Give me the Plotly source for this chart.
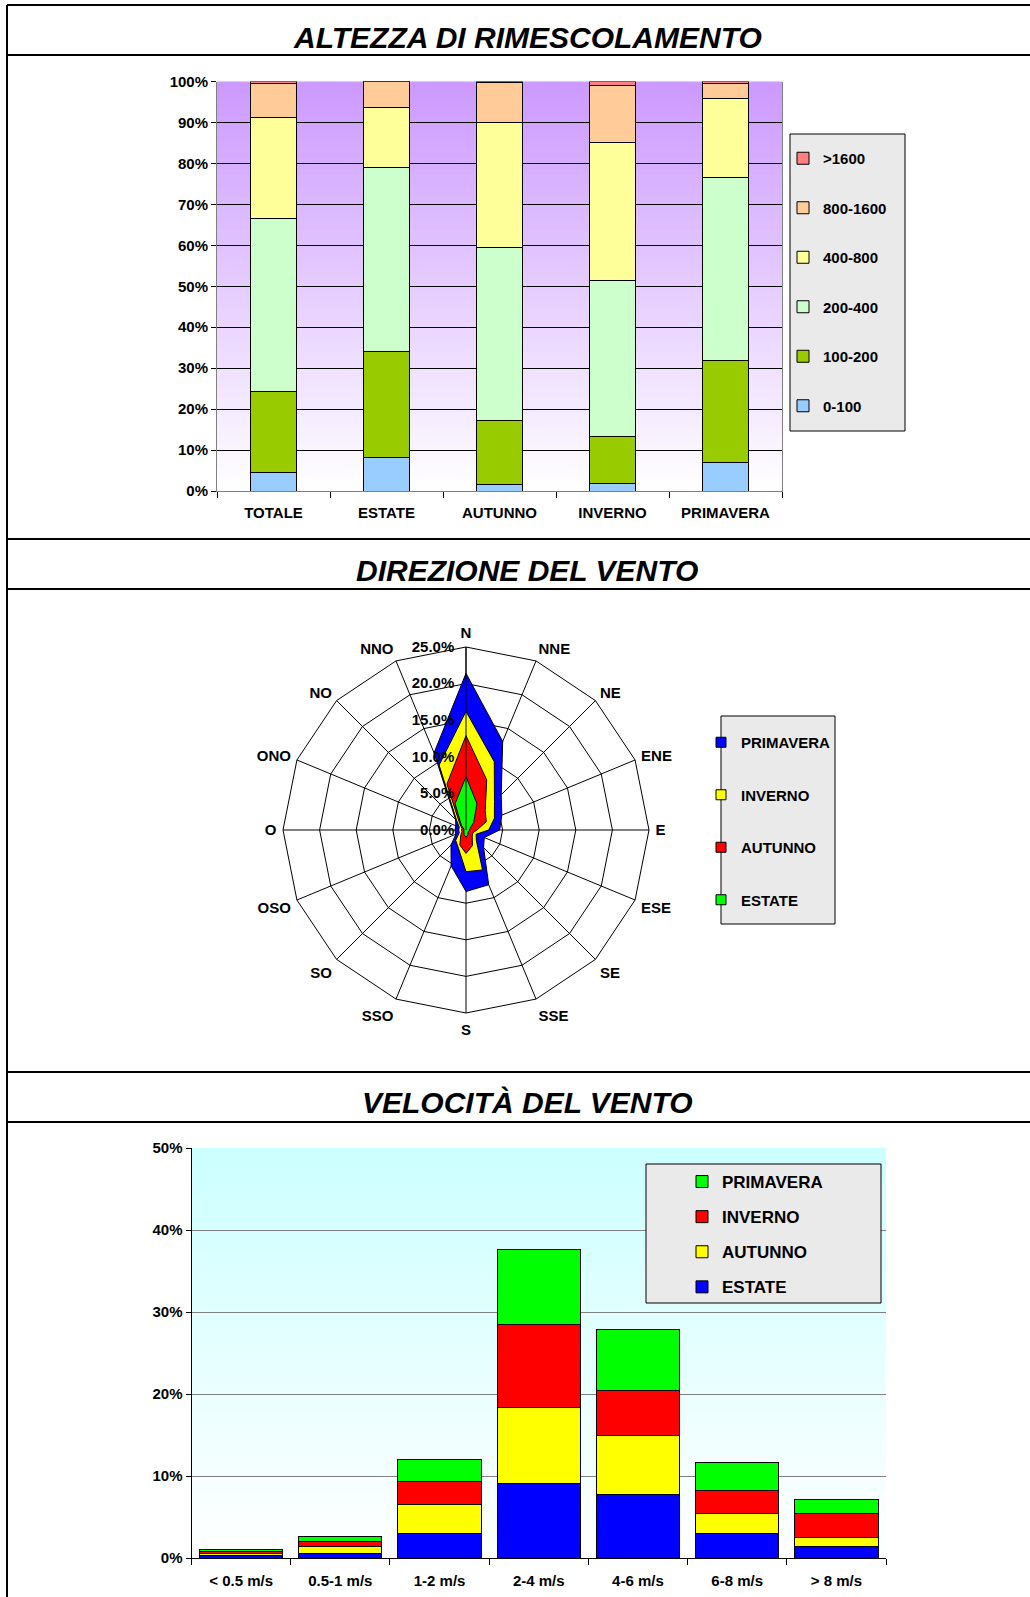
import plotly.graph_objects as go

W, H = 1030, 1597
FONT = "Liberation Sans, Arial, sans-serif"

def px(x):
    return x / W

def py(y):
    return 1 - y / H

# ---------------- DATA ----------------
# Chart 1: Altezza di rimescolamento (% per class)
mix_categories = ["TOTALE", "ESTATE", "AUTUNNO", "INVERNO", "PRIMAVERA"]
mix_classes = ["0-100", "100-200", "200-400", "400-800", "800-1600", ">1600"]
mix_0_100 = [4.6, 8.1, 1.6, 1.9, 7.0]
mix_100_200 = [19.6, 26.0, 15.5, 11.4, 24.9]
mix_200_400 = [42.4, 44.8, 42.3, 38.0, 44.6]
mix_400_800 = [24.5, 14.7, 30.6, 33.8, 19.3]
mix_800_1600 = [8.4, 6.4, 9.7, 13.9, 3.7]
mix_over_1600 = [0.5, 0.0, 0.3, 1.0, 0.5]
mix_colors = ["#99CCFF", "#99CC00", "#CCFFCC", "#FFFF99", "#FFCC99", "#FF8080"]

# Chart 2: Direzione del vento (%)
directions = ["N", "NNE", "NE", "ENE", "E", "ESE", "SE", "SSE",
              "S", "SSO", "SO", "OSO", "O", "ONO", "NO", "NNO"]
dir_primavera = [21.4, 13.1, 6.8, 5.3, 4.6, 2.7, 3.4, 8.1, 8.4, 5.3, 2.9, 1.5, 1.5, 1.5, 2.0, 11.4]
dir_inverno = [16.2, 10.1, 5.5, 4.2, 3.1, 1.5, 2.0, 5.9, 5.7, 2.7, 2.0, 1.0, 1.0, 1.0, 1.8, 9.6]
dir_autunno = [12.9, 7.4, 3.7, 3.0, 1.5, 1.0, 1.2, 2.3, 3.2, 2.2, 1.0, 0.6, 0.6, 0.6, 1.2, 6.8]
dir_estate = [7.3, 3.9, 1.5, 0.6, 0.5, 0.4, 0.4, 0.7, 1.0, 0.7, 0.4, 0.3, 0.3, 0.3, 0.9, 3.9]
dir_ticks = [0, 5, 10, 15, 20, 25]

# Chart 3: Velocita del vento (%)
speed_classes = ["< 0.5 m/s", "0.5-1 m/s", "1-2 m/s", "2-4 m/s", "4-6 m/s", "6-8 m/s", "> 8 m/s"]
spd_estate = [0.35, 0.6, 3.0, 9.1, 7.7, 3.0, 1.35]
spd_autunno = [0.25, 0.8, 3.5, 9.3, 7.3, 2.4, 1.15]
spd_inverno = [0.2, 0.6, 2.8, 10.1, 5.4, 2.8, 2.9]
spd_primavera = [0.2, 0.65, 2.7, 9.1, 7.5, 3.5, 1.7]

fig = go.Figure()

# ---------------- Chart 1 ----------------
mix_series = [mix_0_100, mix_100_200, mix_200_400, mix_400_800, mix_800_1600, mix_over_1600]
n_mix = len(mix_series)
for i, (name, vals, col) in enumerate(zip(mix_classes, mix_series, mix_colors)):
    fig.add_trace(go.Bar(
        x=mix_categories, y=vals, name=name, width=0.415,
        marker=dict(color=col, line=dict(color="#000000", width=1)),
        xaxis="x", yaxis="y", legend="legend", legendgroup="m" + str(i),
        legendrank=n_mix - i, showlegend=True,
    ))

# ---------------- Chart 2 ----------------
dir_series = [("PRIMAVERA", dir_primavera, "#0000FF"), ("INVERNO", dir_inverno, "#FFFF00"),
              ("AUTUNNO", dir_autunno, "#FF0000"), ("ESTATE", dir_estate, "#00FF00")]
for i, (name, vals, col) in enumerate(dir_series):
    fig.add_trace(go.Scatterpolar(
        theta=directions + [directions[0]], r=vals + [vals[0]], name=name, mode="lines",
        fill="toself", fillcolor=col, line=dict(color="#000000", width=1),
        subplot="polar", showlegend=False,
    ))
# legend swatches (no data drawn)
for i, (name, vals, col) in enumerate(dir_series):
    fig.add_trace(go.Scatterpolar(
        theta=[None], r=[None], name=name, mode="markers",
        marker=dict(symbol="square", size=10, color=col, line=dict(color="#000000", width=1)),
        subplot="polar", legend="legend2", legendgroup="d" + str(i), legendrank=i + 1,
        showlegend=True, hoverinfo="skip",
    ))

# ---------------- Chart 3 ----------------
spd_series = [("ESTATE", spd_estate, "#0000FF"), ("AUTUNNO", spd_autunno, "#FFFF00"),
              ("INVERNO", spd_inverno, "#FF0000"), ("PRIMAVERA", spd_primavera, "#00FF00")]
for i, (name, vals, col) in enumerate(spd_series):
    fig.add_trace(go.Bar(
        x=speed_classes, y=vals, name=name, width=0.84,
        marker=dict(color=col, line=dict(color="#000000", width=1)),
        xaxis="x2", yaxis="y2", legend="legend3", legendgroup="s" + str(i),
        legendrank=len(spd_series) - i,
    ))

shapes = []

def gradient(xref, yref, top_rgb, n=80):
    out = []
    for k in range(n):
        t = (k + 0.5) / n  # 0 bottom, 1 top
        c = [round(255 + (tc - 255) * t) for tc in top_rgb]
        out.append(dict(type="rect", xref=xref, yref=yref, x0=0, x1=1,
                        y0=k / n, y1=min(1, (k + 1) / n + 0.002),
                        fillcolor="rgb(%d,%d,%d)" % tuple(c), line=dict(width=0), layer="below"))
    return out

shapes += gradient("x domain", "y domain", (204, 153, 255))
shapes += gradient("x2 domain", "y2 domain", (204, 255, 255))

# frame lines
frame_y = [5, 55, 539, 589, 1072, 1122]
for yy in frame_y:
    shapes.append(dict(type="line", xref="paper", yref="paper", x0=px(7), x1=1, y0=py(yy), y1=py(yy),
                       line=dict(color="#000000", width=2)))
shapes.append(dict(type="line", xref="paper", yref="paper", x0=px(7), x1=px(7), y0=py(5), y1=0,
                   line=dict(color="#000000", width=2)))

# legend boxes
for (x0, y0, x1, y1) in [(790, 134, 905, 431), (721, 716, 835, 924), (646, 1164, 881, 1303)]:
    shapes.append(dict(type="rect", xref="paper", yref="paper", x0=px(x0), x1=px(x1), y0=py(y1), y1=py(y0),
                       fillcolor="#EAEAEA", line=dict(color="#000000", width=1), layer="above"))

titles = [("ALTEZZA DI RIMESCOLAMENTO", 37.5), ("DIREZIONE DEL VENTO", 570.5), ("VELOCITÀ DEL VENTO", 1102.5)]
annotations = [dict(text="<b><i>%s</i></b>" % t, xref="paper", yref="paper", x=px(527), y=py(yy),
                    xanchor="center", yanchor="middle", showarrow=False,
                    font=dict(family=FONT, size=30, color="#000000")) for t, yy in titles]

tickfont = dict(family=FONT, size=15, color="#000000", weight="bold")

fig.update_layout(
    width=W, height=H, margin=dict(l=0, r=0, t=0, b=0, pad=0, autoexpand=False),
    paper_bgcolor="#FFFFFF", plot_bgcolor="rgba(0,0,0,0)",
    font=dict(family=FONT, size=15, color="#000000"),
    barmode="stack",
    shapes=shapes, annotations=annotations,
    xaxis=dict(domain=[px(217), px(782)], anchor="y", showline=True, linecolor="#808080", linewidth=1,
               ticks="outside", tickson="boundaries", ticklen=6, tickcolor="#000000", tickfont=tickfont,
               ticklabelstandoff=8, showgrid=False, fixedrange=True, automargin=False),
    yaxis=dict(domain=[py(491), py(81.5)], anchor="x", range=[0, 100], dtick=10, ticksuffix="%",
               showgrid=True, gridcolor="#000000", gridwidth=1, showline=True, linecolor="#808080",
               mirror=True, ticks="outside", ticklen=5, tickcolor="#000000", tickfont=tickfont,
               zeroline=False, fixedrange=True, automargin=False),
    xaxis2=dict(domain=[px(191.5), px(886)], anchor="y2", showline=True, linecolor="#000000", linewidth=1,
                ticks="outside", tickson="boundaries", ticklen=6, tickcolor="#000000", tickfont=tickfont,
                ticklabelstandoff=9, showgrid=False, fixedrange=True, automargin=False),
    yaxis2=dict(domain=[py(1558), py(1148)], anchor="x2", range=[0, 50], dtick=10, ticksuffix="%",
                showgrid=True, gridcolor="#808080", gridwidth=1, showline=True, linecolor="#000000",
                ticks="outside", ticklen=5, tickcolor="#000000", tickfont=tickfont,
                zeroline=False, fixedrange=True, automargin=False),
    polar=dict(
        domain=dict(x=[px(466 - 183), px(466 + 183)], y=[py(830 + 183), py(830 - 183)]),
        bgcolor="#FFFFFF", gridshape="linear",
        angularaxis=dict(direction="clockwise", rotation=90, categoryorder="array",
                         categoryarray=directions, showline=True, linecolor="#000000", linewidth=1,
                         gridcolor="#000000", gridwidth=1, ticks="outside", ticklen=3,
                         tickcolor="rgba(0,0,0,0)", tickfont=tickfont),
        radialaxis=dict(range=[0, 25], tickvals=dir_ticks, ticktext=["%.1f%%" % v for v in dir_ticks],
                        angle=90, side="counterclockwise", showline=True, linecolor="#000000",
                        gridcolor="#000000", gridwidth=1, ticks="outside", ticklen=6,
                        tickcolor="rgba(0,0,0,0)", tickfont=tickfont, tickangle=90),
    ),
    legend=dict(x=px(783), y=py(142), xanchor="left", yanchor="top", bgcolor="rgba(0,0,0,0)",
                borderwidth=0, traceorder="grouped", tracegroupgap=27,
                font=dict(family=FONT, size=15, color="#000000", weight="bold")),
    legend2=dict(x=px(701), y=py(726), xanchor="left", yanchor="top", bgcolor="rgba(0,0,0,0)",
                 borderwidth=0, traceorder="grouped", tracegroupgap=30,
                 font=dict(family=FONT, size=15, color="#000000", weight="bold")),
    legend3=dict(x=px(682), y=py(1164), xanchor="left", yanchor="top", bgcolor="rgba(0,0,0,0)",
                 borderwidth=0, traceorder="grouped", tracegroupgap=10,
                 font=dict(family=FONT, size=17, color="#000000", weight="bold")),
)

fig.write_html("out.html", config={"displayModeBar": False},
               post_script="document.body.style.margin='0px';document.body.style.overflow='hidden';")
